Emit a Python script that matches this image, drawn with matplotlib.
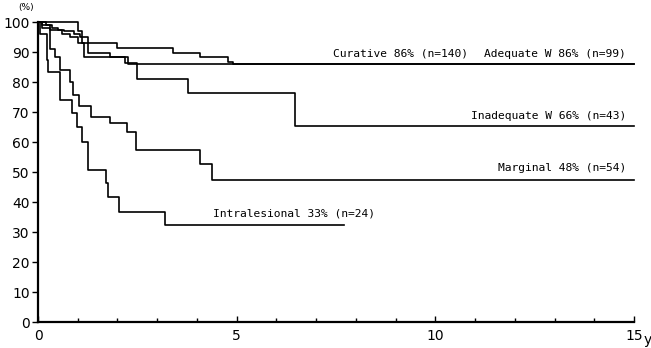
import matplotlib.pyplot as plt
import numpy as np

# Kaplan-Meier style step curves (years, %)
curative_t = [0, 0.2, 0.35, 0.5, 0.65, 0.9, 1.05, 1.25, 2.0, 3.4, 4.07, 4.78, 4.9]
curative_s = [100, 99, 98, 97.5, 97, 96, 95, 93, 91.5, 89.7, 88.3, 86.8, 86]
curative_end = 15

adequate_t = [0, 0.1, 0.3, 0.6, 0.8, 1.0, 1.25, 1.8, 2.27]
adequate_s = [100, 99, 97.5, 96, 95, 93, 89.7, 88.5, 86]
adequate_end = 15

inadequate_t = [0, 1.0, 1.1, 1.15, 2.2, 2.5, 3.77, 6.46]
inadequate_s = [100, 97, 93, 88.5, 86.5, 81, 76.5, 65.3]
inadequate_end = 15

marginal_t = [0, 0.1, 0.3, 0.43, 0.55, 0.8, 0.88, 1.03, 1.33, 1.8, 2.23, 2.46, 4.07, 4.37]
marginal_s = [100, 98, 91, 88.5, 84, 80, 75.7, 72, 68.3, 66.3, 63.3, 57.3, 52.7, 47.3]
marginal_end = 15

intra_t = [0, 0.05, 0.22, 0.26, 0.55, 0.85, 0.97, 1.1, 1.26, 1.71, 1.77, 2.04, 3.19]
intra_s = [100, 96, 87.3, 83.3, 74, 69.7, 65, 60, 50.7, 46.3, 41.7, 36.7, 32.3]
intra_end = 7.7

labels = ['Curative 86% (n=140)', 'Adequate W 86% (n=99)', 'Inadequate W 66% (n=43)',
          'Marginal 48% (n=54)', 'Intralesional 33% (n=24)']

fig = plt.figure(figsize=(6.51, 3.48), dpi=100)
ax = fig.add_axes([0.0584, 0.0747, 0.9156, 0.862])

def km(t, s, end):
    t = list(t) + [end]
    s = list(s) + [s[-1]]
    ax.step(t, s, where='post', color='black', lw=1.2, clip_on=False)

km(curative_t, curative_s, curative_end)
km(adequate_t, adequate_s, adequate_end)
km(inadequate_t, inadequate_s, inadequate_end)
km(marginal_t, marginal_s, marginal_end)
km(intra_t, intra_s, intra_end)

ax.set_xlim(0, 15)
ax.set_ylim(0, 100)
for side in ['top', 'right']:
    ax.spines[side].set_visible(False)
for side in ['left', 'bottom']:
    ax.spines[side].set_linewidth(1.6)

ax.set_yticks(np.arange(0, 101, 10))
ax.set_xticks([0, 5, 10, 15])
ax.set_xticks(np.arange(0, 16, 1), minor=True)
ax.tick_params(axis='y', direction='out', length=4, width=1, labelsize=10, pad=2)
ax.tick_params(axis='x', which='both', direction='in', length=4, width=1, labelsize=10, pad=5)
ax.tick_params(axis='x', which='minor', length=3)

ax.text(-0.3, 103.5, '(%)', fontsize=6.5, ha='center', va='bottom')
ax.text(15.25, -3.7, 'y', fontsize=10, ha='left', va='top')

txt = dict(family='DejaVu Sans Mono', fontsize=8.1, color='black')
ax.text(9.12, 87.8, labels[0], ha='center', va='bottom', **txt)
ax.text(14.8, 87.8, labels[1], ha='right', va='bottom', **txt)
ax.text(14.8, 67.0, labels[2], ha='right', va='bottom', **txt)
ax.text(14.8, 49.6, labels[3], ha='right', va='bottom', **txt)
ax.text(4.4, 34.4, labels[4], ha='left', va='bottom', **txt)

fig.savefig('out.png', dpi=100)
